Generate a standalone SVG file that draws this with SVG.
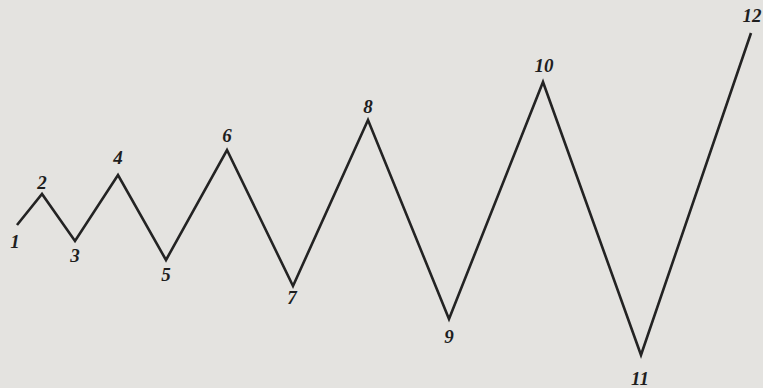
<svg xmlns="http://www.w3.org/2000/svg" width="763" height="388" viewBox="0 0 763 388">
<style>
.lbl{font-family:"Liberation Serif","DejaVu Serif",serif;font-weight:bold;font-style:italic;font-size:19px;fill:#1e1e1e;text-anchor:middle}
.wave{fill:none;stroke:#232323;stroke-width:2.6;stroke-linejoin:miter;stroke-linecap:butt}
</style>
<rect width="763" height="388" fill="#e4e3e0"/>
<g id="connectors">
<polyline class="wave" points="17,225 42,194 75,241 118,175 166,260 227,150 293,286 368,120 449,319 543,82 641,355 751,33"/>
</g>
<g id="n1"><text class="lbl" x="15" y="248">1</text></g>
<g id="n2"><text class="lbl" x="42" y="189">2</text></g>
<g id="n3"><text class="lbl" x="75" y="262">3</text></g>
<g id="n4"><text class="lbl" x="118" y="164">4</text></g>
<g id="n5"><text class="lbl" x="166" y="281">5</text></g>
<g id="n6"><text class="lbl" x="227" y="142">6</text></g>
<g id="n7"><text class="lbl" x="292" y="304">7</text></g>
<g id="n8"><text class="lbl" x="368" y="113">8</text></g>
<g id="n9"><text class="lbl" x="449" y="343">9</text></g>
<g id="n10"><text class="lbl" x="544" y="72">10</text></g>
<g id="n11"><text class="lbl" x="640" y="385">11</text></g>
<g id="n12"><text class="lbl" x="752" y="22">12</text></g>
</svg>
